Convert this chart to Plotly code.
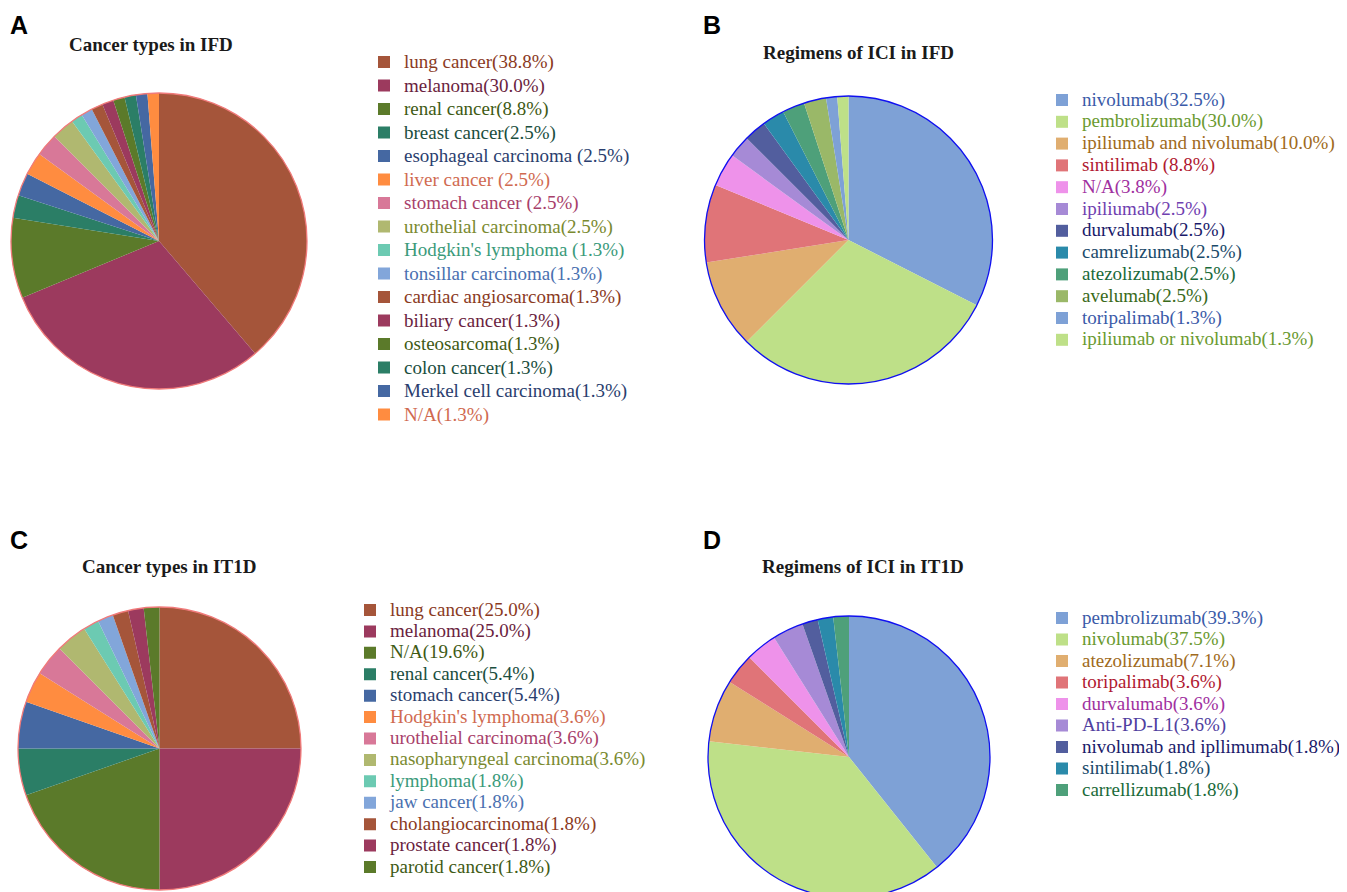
import plotly.graph_objects as go

W, H = 1347, 892

# ---------------- data ----------------
a_labels = ["lung cancer(38.8%)", "melanoma(30.0%)", "renal cancer(8.8%)", "breast cancer(2.5%)",
            "esophageal carcinoma (2.5%)", "liver cancer (2.5%)", "stomach cancer (2.5%)",
            "urothelial carcinoma(2.5%)", "Hodgkin's lymphoma (1.3%)", "tonsillar carcinoma(1.3%)",
            "cardiac angiosarcoma(1.3%)", "biliary cancer(1.3%)", "osteosarcoma(1.3%)",
            "colon cancer(1.3%)", "Merkel cell carcinoma(1.3%)", "N/A(1.3%)"]
a_values = [31, 24, 7, 2, 2, 2, 2, 2, 1, 1, 1, 1, 1, 1, 1, 1]

b_labels = ["nivolumab(32.5%)", "pembrolizumab(30.0%)", "ipiliumab and nivolumab(10.0%)",
            "sintilimab (8.8%)", "N/A(3.8%)", "ipiliumab(2.5%)", "durvalumab(2.5%)",
            "camrelizumab(2.5%)", "atezolizumab(2.5%)", "avelumab(2.5%)", "toripalimab(1.3%)",
            "ipiliumab or nivolumab(1.3%)"]
b_values = [26, 24, 8, 7, 3, 2, 2, 2, 2, 2, 1, 1]

c_labels = ["lung cancer(25.0%)", "melanoma(25.0%)", "N/A(19.6%)", "renal cancer(5.4%)",
            "stomach cancer(5.4%)", "Hodgkin's lymphoma(3.6%)", "urothelial carcinoma(3.6%)",
            "nasopharyngeal carcinoma(3.6%)", "lymphoma(1.8%)", "jaw cancer(1.8%)",
            "cholangiocarcinoma(1.8%)", "prostate cancer(1.8%)", "parotid cancer(1.8%)"]
c_values = [14, 14, 11, 3, 3, 2, 2, 2, 1, 1, 1, 1, 1]

d_labels = ["pembrolizumab(39.3%)", "nivolumab(37.5%)", "atezolizumab(7.1%)", "toripalimab(3.6%)",
            "durvalumab(3.6%)", "Anti-PD-L1(3.6%)", "nivolumab and ipllimumab(1.8%)",
            "sintilimab(1.8%)", "carrellizumab(1.8%)"]
d_values = [22, 21, 4, 2, 2, 2, 1, 1, 1]

titles = ["Cancer types in IFD", "Regimens of ICI in IFD", "Cancer types in IT1D", "Regimens of ICI in IT1D"]
panel_letters = ["A", "B", "C", "D"]

# ---------------- styles ----------------
warm_fill = ["#A5553A", "#9C3A5E", "#5B7A2A", "#2B7E66", "#4568A2",
             "#FF8C40", "#D87898", "#B0B870", "#6CCAB2", "#82A6DA"]
warm_text = ["#8A3A1E", "#6A1E40", "#3E5A14", "#1A4E3E", "#2A3E6E",
             "#D06A50", "#A8406A", "#7A8A30", "#3A9A7A", "#4A70B0"]
cool_fill = ["#7EA1D6", "#BEE088", "#E0AE70", "#E07478", "#EE92EA",
             "#A68AD6", "#525E9E", "#2A8AAA", "#4EA07A", "#9AB868"]
cool_text = ["#3A5AA8", "#6A9A30", "#A06A20", "#B01830", "#A030A0",
             "#7040B0", "#1A1A6A", "#1A4A6A", "#1A6A3A", "#3A6A1A"]
d_text = ["#3A5AA8", "#6A9A30", "#A06A20", "#B01830", "#A030A0",
          "#5040A0", "#1A1A6A", "#1A4A6A", "#1A6A3A"]


def cyc(lst, n):
    return [lst[i % len(lst)] for i in range(n)]


def styled(labels, colors):
    return ["<span style='color:%s;font-size:19px'>%s</span>" % (c, l) for l, c in zip(labels, colors)]


def px_dom(cx, cy, r):
    return dict(x=[(cx - r) / W, (cx + r) / W], y=[1 - (cy + r) / H, 1 - (cy - r) / H])


panels = [
    dict(labels=a_labels, values=a_values, fill=cyc(warm_fill, 16), text=cyc(warm_text, 16),
         outline="#F07A7A", dom=px_dom(151, 233, 148), legend="legend",
         lx=356, ly_first=62, spacing=23.5, tx=143, ty=37, lt=(0, 1)),
    dict(labels=b_labels, values=b_values, fill=cyc(cool_fill, 12), text=cyc(cool_text, 12),
         outline="#1010F0", dom=px_dom(840.5, 232, 144), legend="legend2",
         lx=1034, ly_first=100, spacing=21.8, tx=850, ty=45, lt=(693, 1)),
    dict(labels=c_labels, values=c_values, fill=cyc(warm_fill, 13), text=cyc(warm_text, 13),
         outline="#F07A7A", dom=px_dom(151.5, 740.5, 141.5), legend="legend3",
         lx=342, ly_first=610, spacing=21.42, tx=161, ty=558, lt=(0, 516)),
    dict(labels=d_labels, values=d_values, fill=cyc(cool_fill, 9), text=d_text,
         outline="#1010F0", dom=px_dom(841, 749, 141), legend="legend4",
         lx=1034, ly_first=618, spacing=21.5, tx=855, ty=558, lt=(693, 516)),
]

fig = go.Figure()
layout_legends = {}
annotations = []
for i, p in enumerate(panels):
    fig.add_trace(go.Pie(
        labels=styled(p["labels"], p["text"]), values=p["values"], sort=False,
        direction="clockwise", rotation=0, textinfo="none",
        marker=dict(colors=p["fill"], line=dict(width=0)),
        domain=p["dom"], legend=p["legend"], hoverinfo="label+value",
    ))
    # outline ring
    fig.add_trace(go.Pie(
        labels=["all"], values=[sum(p["values"])], sort=False, textinfo="none",
        marker=dict(colors=["rgba(0,0,0,0)"], line=dict(color=p["outline"], width=1.3)),
        domain=p["dom"], showlegend=False, hoverinfo="skip",
    ))
    fs = (p["spacing"] - 3) / 1.3
    top = p["ly_first"] - 5 - p["spacing"] / 2 - 8
    layout_legends[p["legend"]] = dict(
        x=p["lx"] / W, y=1 - top / H, xanchor="left", yanchor="top",
        font=dict(family="Liberation Serif", size=fs, color="#333"),
        bgcolor="rgba(0,0,0,0)", borderwidth=0, traceorder="normal",
    )
    annotations.append(dict(
        text="<b>%s</b>" % titles[i], x=p["tx"] / W, y=1 - p["ty"] / H, xref="paper", yref="paper",
        xanchor="center", yanchor="middle", showarrow=False,
        font=dict(family="Liberation Serif", size=19, color="#1a1a1a")))
    annotations.append(dict(
        text="<b>%s</b>" % panel_letters[i], x=p["lt"][0] / W, y=1 - p["lt"][1] / H,
        xref="paper", yref="paper", xanchor="left", yanchor="top", showarrow=False,
        font=dict(family="Liberation Sans", size=25, color="#000")))

fig.update_layout(
    width=W, height=H, margin=dict(l=0, r=0, t=0, b=0),
    paper_bgcolor="white", plot_bgcolor="white",
    annotations=annotations, **layout_legends,
)
fig.write_html("out.html")
